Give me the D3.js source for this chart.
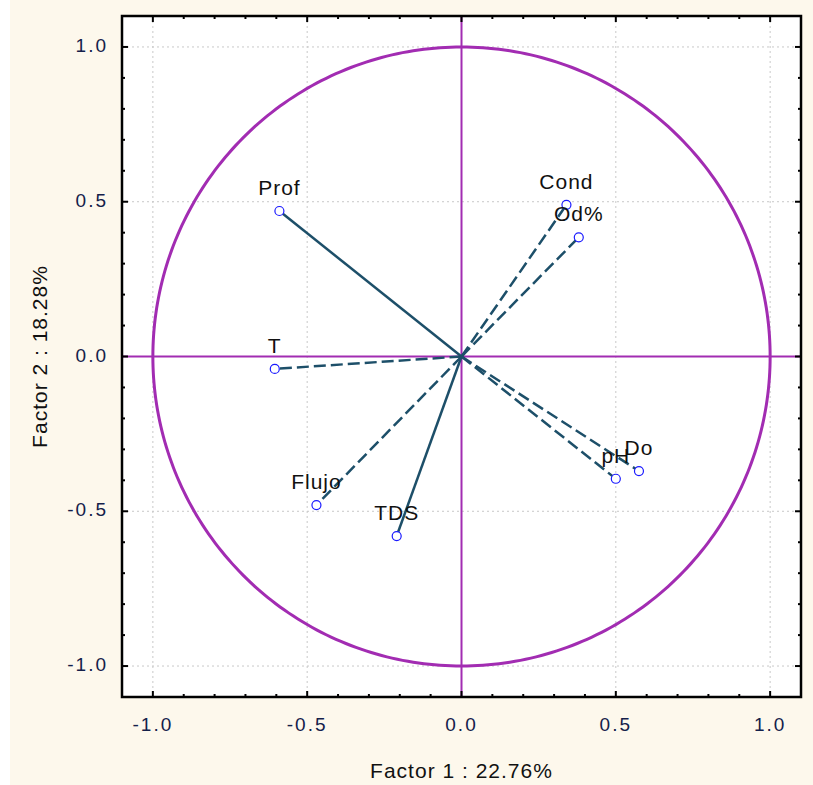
<!DOCTYPE html>
<html>
<head>
<meta charset="utf-8">
<script src="https://cdn.jsdelivr.net/npm/d3@7"></script>
<style>
  html, body { margin: 0; padding: 0; background: #fdf8ec; }
  svg { display: block; }
  text { font-family: "Liberation Sans", Arial, sans-serif; }
</style>
</head>
<body>
<div id="chart"></div>
<script>
// variable loadings on factor 1 and factor 2
const variables = ['Prof', 'T', 'Flujo', 'TDS', 'Cond', 'Od%', 'pH', 'Do'];
const factor1 = [-0.59, -0.605, -0.47, -0.21, 0.34, 0.38, 0.50, 0.575];
const factor2 = [0.47, -0.04, -0.48, -0.58, 0.49, 0.385, -0.395, -0.37];
const solidVars = ['Prof', 'TDS'];

const tickValues = [-1.0, -0.5, 0.0, 0.5, 1.0];
const minorTickValues = d3.range(-10, 11).map(d => d / 10);
const xTitle = 'Factor 1 : 22.76%';
const yTitle = 'Factor 2 : 18.28%';

const width = 813;
const height = 785;
const margin = {top: 16, right: 12, bottom: 88, left: 122};
const purple = '#a22cb2';
const lineColor = '#1d4f69';

const fmt = d => d.toFixed(1);

const svg = d3.select('#chart').append('svg')
  .attr('width', width)
  .attr('height', height);

svg.append('rect')
  .attr('width', 10).attr('height', height)
  .attr('fill', '#fff');

const x = d3.scaleLinear()
  .domain([-1.1, 1.1])
  .range([margin.left, width - margin.right]);

const y = d3.scaleLinear()
  .domain([-1.1, 1.1])
  .range([height - margin.bottom, margin.top]);

const plotW = width - margin.left - margin.right;
const plotH = height - margin.top - margin.bottom;

svg.append('rect')
  .attr('x', margin.left)
  .attr('y', margin.top)
  .attr('width', plotW)
  .attr('height', plotH)
  .attr('fill', '#fff');

// dotted grid at the labelled ticks
const grid = svg.append('g')
  .attr('stroke', '#c8c8c8')
  .attr('stroke-width', 1)
  .attr('stroke-dasharray', '2,3');

grid.selectAll('.gx')
  .data(tickValues.filter(d => d !== 0))
  .join('line')
  .attr('x1', d => x(d)).attr('x2', d => x(d))
  .attr('y1', margin.top).attr('y2', height - margin.bottom);

grid.selectAll('.gy')
  .data(tickValues.filter(d => d !== 0))
  .join('line')
  .attr('y1', d => y(d)).attr('y2', d => y(d))
  .attr('x1', margin.left).attr('x2', width - margin.right);

// unit circle
const circlePts = d3.range(0, 361).map(a => [Math.cos(a * Math.PI / 180), Math.sin(a * Math.PI / 180)]);
svg.append('path')
  .datum(circlePts)
  .attr('fill', 'none')
  .attr('stroke', purple)
  .attr('stroke-width', 3)
  .attr('d', d3.line().x(d => x(d[0])).y(d => y(d[1])));

// zero lines
svg.append('line')
  .attr('x1', x(0)).attr('x2', x(0))
  .attr('y1', margin.top).attr('y2', height - margin.bottom)
  .attr('stroke', purple).attr('stroke-width', 2);

svg.append('line')
  .attr('x1', margin.left).attr('x2', width - margin.right)
  .attr('y1', y(0)).attr('y2', y(0))
  .attr('stroke', purple).attr('stroke-width', 2);

// loading vectors
svg.append('g')
  .selectAll('line')
  .data(variables)
  .join('line')
  .attr('x1', x(0)).attr('y1', y(0))
  .attr('x2', (d, i) => x(factor1[i]))
  .attr('y2', (d, i) => y(factor2[i]))
  .attr('stroke', lineColor)
  .attr('stroke-width', 2.5)
  .attr('stroke-dasharray', d => solidVars.includes(d) ? null : '12,5');

svg.append('g')
  .selectAll('circle')
  .data(variables)
  .join('circle')
  .attr('cx', (d, i) => x(factor1[i]))
  .attr('cy', (d, i) => y(factor2[i]))
  .attr('r', 4.5)
  .attr('fill', '#fff')
  .attr('stroke', '#1a1aff')
  .attr('stroke-width', 1.2);

svg.append('g')
  .selectAll('text')
  .data(variables)
  .join('text')
  .attr('x', (d, i) => x(factor1[i]))
  .attr('y', (d, i) => y(factor2[i]) - 16)
  .attr('text-anchor', 'middle')
  .attr('font-size', 21)
  .attr('letter-spacing', 1)
  .attr('fill', '#111')
  .text(d => d);

// frame and ticks on all four sides
svg.append('rect')
  .attr('x', margin.left)
  .attr('y', margin.top)
  .attr('width', plotW)
  .attr('height', plotH)
  .attr('fill', 'none')
  .attr('stroke', '#000')
  .attr('stroke-width', 2.5);

const tickLen = d => tickValues.some(t => Math.abs(t - d) < 1e-9) ? 6 : 3;
const ticks = svg.append('g').attr('stroke', '#000').attr('stroke-width', 2);

ticks.selectAll('.tb').data(minorTickValues).join('line')
  .attr('x1', d => x(d)).attr('x2', d => x(d))
  .attr('y1', height - margin.bottom).attr('y2', d => height - margin.bottom - tickLen(d));
ticks.selectAll('.tt').data(minorTickValues).join('line')
  .attr('x1', d => x(d)).attr('x2', d => x(d))
  .attr('y1', margin.top).attr('y2', d => margin.top + tickLen(d));
ticks.selectAll('.tl').data(minorTickValues).join('line')
  .attr('y1', d => y(d)).attr('y2', d => y(d))
  .attr('x1', margin.left).attr('x2', d => margin.left + tickLen(d));
ticks.selectAll('.tr').data(minorTickValues).join('line')
  .attr('y1', d => y(d)).attr('y2', d => y(d))
  .attr('x1', width - margin.right).attr('x2', d => width - margin.right - tickLen(d));

// tick labels
svg.append('g')
  .selectAll('text')
  .data(tickValues)
  .join('text')
  .attr('x', d => x(d))
  .attr('y', height - margin.bottom + 34)
  .attr('text-anchor', 'middle')
  .attr('font-size', 19)
  .attr('letter-spacing', 2)
  .attr('fill', '#14204a')
  .text(fmt);

svg.append('g')
  .selectAll('text')
  .data(tickValues)
  .join('text')
  .attr('x', margin.left - 14)
  .attr('y', d => y(d) + 5)
  .attr('text-anchor', 'end')
  .attr('font-size', 19)
  .attr('letter-spacing', 2)
  .attr('fill', '#14204a')
  .text(fmt);

// axis titles
svg.append('text')
  .attr('x', x(0))
  .attr('y', 778)
  .attr('text-anchor', 'middle')
  .attr('font-size', 21)
  .attr('letter-spacing', 1)
  .attr('fill', '#111')
  .text(xTitle);

svg.append('text')
  .attr('transform', `translate(47,${y(0)}) rotate(-90)`)
  .attr('text-anchor', 'middle')
  .attr('font-size', 21)
  .attr('letter-spacing', 1)
  .attr('fill', '#111')
  .text(yTitle);
</script>
</body>
</html>
